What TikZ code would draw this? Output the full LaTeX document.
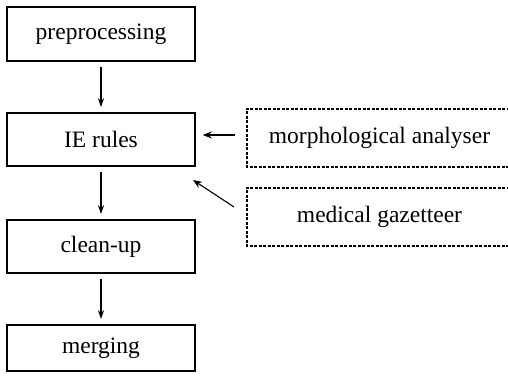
\documentclass[tikz,border=0pt]{standalone}
\usepackage{fontspec}
\setmainfont{Liberation Serif}
\usetikzlibrary{arrows.meta}
\begin{document}
\begin{tikzpicture}[x=1pt,y=-1pt,
  stage/.style={draw, line width=1.6pt, minimum width=188pt, inner sep=0pt,
    font=\fontsize{23.5}{28}\selectfont},
  resource/.style={minimum width=265pt, minimum height=58pt, inner sep=0pt,
    font=\fontsize{23.5}{28}\selectfont},
  resbox/.style={line width=1.6pt, dash pattern=on 3pt off 1.5pt},
  flow/.style={line width=1.8pt, -{Stealth[length=9pt,width=6pt]},
    shorten <=5pt, shorten >=5pt},
  feed/.style={line width=1.1pt, -{Stealth[length=9pt,width=7pt]}}]
  \clip (0,0) rectangle (508,381);

  % processing stages
  \node[stage, minimum height=54pt] (pre)   at (101,34)    {preprocessing};
  \node[stage, minimum height=53pt] (ie)    at (101,139.5) {IE rules};
  \node[stage, minimum height=53pt] (clean) at (101,246.5) {clean-up};
  \node[stage, minimum height=46pt] (merge) at (101,348)   {merging};

  % external resources; their frames run off the right edge
  \node[resource] (morph) at (379.5,138) {morphological analyser};
  \node[resource] (gaz)   at (379.5,217) {medical gazetteer};
  \draw[resbox] ([xshift=20pt]morph.north east) -| (morph.south west)
    -- ([xshift=20pt]morph.south east);
  \draw[resbox] ([xshift=20pt]gaz.north east) -| (gaz.south west)
    -- ([xshift=20pt]gaz.south east);

  % pipeline flow
  \draw[flow] (pre)   -- (ie);
  \draw[flow] (ie)    -- (clean);
  \draw[flow] (clean) -- (merge);

  % resources feeding the rules
  \draw[feed, shorten <=12pt, shorten >=7pt] (morph.west |- 0,135) -- (ie.east |- 0,135);
  \coordinate (gazout) at (234,207);
  \coordinate (iein)   at (193,180);
  \draw[feed] (gazout) -- (iein);
\end{tikzpicture}
\end{document}
